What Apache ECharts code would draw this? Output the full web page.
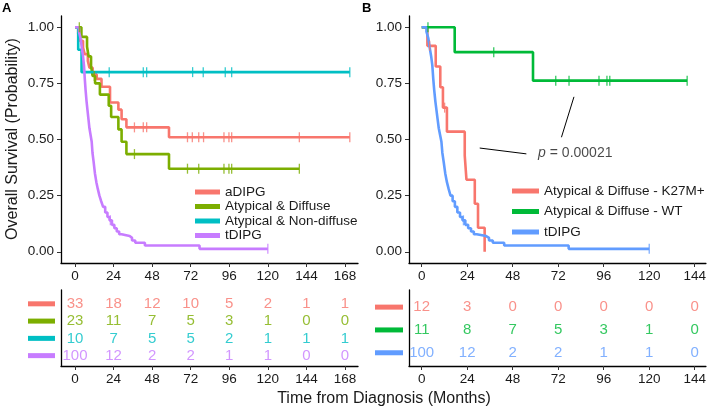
<!DOCTYPE html>
<html><head><meta charset="utf-8">
<script src="https://cdn.jsdelivr.net/npm/echarts@6/dist/echarts.min.js"></script>
<style>html,body{margin:0;padding:0;background:#fff}#c{width:709px;height:410px}</style>
</head><body><div id="c"></div>
<script>
// ---------- data ----------
const xTicksA = [0, 24, 48, 72, 96, 120, 144, 168];
const xTicksB = [0, 24, 48, 72, 96, 120, 144];
const yTicks = [0, 0.25, 0.5, 0.75, 1];

const groupsA = ['aDIPG', 'Atypical & Diffuse', 'Atypical & Non-diffuse', 'tDIPG'];
const groupsB = ['Atypical & Diffuse - K27M+', 'Atypical & Diffuse - WT', 'tDIPG'];

// Kaplan-Meier step points [month, survival]
const aDIPG = [[0,1],[2,0.97],[3,0.94],[5,0.91],[6,0.88],[8,0.85],[9,0.82],[11,0.79],[13.5,0.77],[16.5,0.735],[21.8,0.665],[27,0.633],[29,0.59],[32,0.554],[58.5,0.51],[171,0.51]];
const aDIPGCens = [[37,0.554],[42.5,0.554],[44.6,0.554],[70,0.51],[73,0.51],[77,0.51],[80,0.51],[92.7,0.51],[95.8,0.51],[97.5,0.51],[139.6,0.51],[171,0.51]];

const atypDiffuse = [[0,1],[4,0.957],[7.5,0.913],[8.5,0.87],[10,0.826],[11,0.783],[12.5,0.75],[15.5,0.70],[21,0.65],[22.5,0.60],[27,0.545],[29,0.49],[32,0.435],[58.5,0.37],[139.6,0.37]];
const atypDiffuseCens = [[2.7,1],[12,0.783],[37,0.435],[70,0.37],[77,0.37],[92.7,0.37],[95.8,0.37],[97.5,0.37],[139.6,0.37]];

const atypNonDiffuse = [[0,1],[2,0.9],[4.1,0.8],[171,0.8]];
const atypNonDiffuseCens = [[21.3,0.8],[42.5,0.8],[44.6,0.8],[73.2,0.8],[79.8,0.8],[93.5,0.8],[97.5,0.8],[171,0.8]];

const tDIPG = [[0,1],[2.5,0.98],[3.5,0.95],[4.2,0.91],[5,0.87],[5.6,0.83],[6.1,0.77],[6.6,0.72],[7.2,0.67],[7.8,0.63],[8.4,0.59],[9,0.55],[9.7,0.52],[10.4,0.49],[10.9,0.44],[11.6,0.40],[12.4,0.35],[13.3,0.31],[14.2,0.28],[15.2,0.25],[16.3,0.225],[17.5,0.20],[18.8,0.175],[20.2,0.155],[21.5,0.14],[23,0.12],[24.5,0.105],[26,0.09],[27.5,0.078],[29,0.07],[34,0.062],[35.5,0.05],[37.5,0.04],[43.5,0.028],[77.5,0.013],[120,0.013]];
const tDIPGCens = [[22,0.14],[120,0.013]];

const k27m = [[0,1],[3,0.917],[7.4,0.825],[9.8,0.733],[11.2,0.642],[13.3,0.535],[22.7,0.428],[23.6,0.321],[28,0.214],[29.7,0.107],[33.2,0]];
const k27mCens = [[4.2,0.917],[12.1,0.642]];

const wt = [[0,1],[17.4,0.889],[58.7,0.762],[140,0.762]];
const wtCens = [[3.3,1],[38,0.889],[70.7,0.762],[77.7,0.762],[93.5,0.762],[97.7,0.762],[99.2,0.762],[140,0.762]];

// numbers at risk
const riskA = [
  [33, 18, 12, 10, 5, 2, 1, 1],
  [23, 11, 7, 5, 3, 1, 0, 0],
  [10, 7, 5, 5, 2, 1, 1, 1],
  [100, 12, 2, 2, 1, 1, 0, 0]
];
const riskB = [
  [12, 3, 0, 0, 0, 0, 0],
  [11, 8, 7, 5, 3, 1, 0],
  [100, 12, 2, 2, 1, 1, 0]
];

const pText = 'p = 0.00021';
const pAnchor = [[81, 0.44]];
const pLine1 = [[30.6, 0.462], [55.2, 0.436]];
const pLine2 = [[73.7, 0.51], [80.3, 0.69]];

// ---------- styles ----------
const colA = ['#F8766D', '#7CAE00', '#00BFC4', '#C77CFF'];
const colB = ['#F8766D', '#00BA38', '#619CFF'];
const FONT = 'Liberation Sans';
const TXT = '#1a1a1a';

function xAx(gi, min, max, ticks) {
  return {
    type: 'value', gridIndex: gi, min: min, max: max,
    splitLine: { show: false },
    axisLine: { onZero: false, lineStyle: { color: '#000', width: 1.3 } },
    axisTick: { customValues: ticks, length: 4, lineStyle: { color: '#333', width: 1 } },
    axisLabel: { customValues: ticks, fontSize: 13.5, color: TXT, margin: 6, fontFamily: FONT }
  };
}
function yMain(gi) {
  return {
    type: 'value', gridIndex: gi, min: -0.05, max: 1.05,
    splitLine: { show: false },
    axisLine: { onZero: false, lineStyle: { color: '#000', width: 1.3 } },
    axisTick: { customValues: yTicks, length: 4, lineStyle: { color: '#333', width: 1 } },
    axisLabel: { customValues: yTicks, fontSize: 13.5, color: TXT, margin: 7, fontFamily: FONT,
      formatter: v => v.toFixed(2) }
  };
}
function yTable(gi, n, min, max, cols, w) {
  const rich = {};
  const vals = [];
  for (let i = 0; i < n; i++) {
    rich['c' + i] = { backgroundColor: cols[i], width: w, height: 5, fontSize: 1, lineHeight: 5 };
    vals.push(i);
  }
  return {
    type: 'value', gridIndex: gi, min: min, max: max, inverse: true,
    splitLine: { show: false },
    axisLine: { onZero: false, lineStyle: { color: '#000', width: 1.3 } },
    axisTick: { show: false },
    axisLabel: { customValues: vals, margin: 6, formatter: v => '{c' + Math.round(v) + '| }', rich: rich }
  };
}

const series = [];
function km(name, data, cens, color, xi, yi) {
  series.push({
    name: name, type: 'line', step: 'end', data: data, xAxisIndex: xi, yAxisIndex: yi,
    showSymbol: false, symbol: 'none', color: color,
    lineStyle: { color: color, width: 2.6 }, emphasis: { disabled: true }, animation: false
  });
  series.push({
    name: name + ' censor', type: 'scatter', data: cens, xAxisIndex: xi, yAxisIndex: yi,
    symbol: 'rect', symbolSize: [1.3, 10], itemStyle: { color: color }, z: 3, animation: false
  });
}
km(groupsA[0], aDIPG, aDIPGCens, colA[0], 0, 0);
km(groupsA[1], atypDiffuse, atypDiffuseCens, colA[1], 0, 0);
km(groupsA[2], atypNonDiffuse, atypNonDiffuseCens, colA[2], 0, 0);
km(groupsA[3], tDIPG, tDIPGCens, colA[3], 0, 0);
km(groupsB[0], k27m, k27mCens, colB[0], 2, 2);
km(groupsB[1], wt, wtCens, colB[1], 2, 2);
km(groupsB[2] + ' ', tDIPG, tDIPGCens, colB[2], 2, 2);

function riskSeries(risk, ticks, cols, xi, yi) {
  risk.forEach((row, g) => {
    series.push({
      type: 'scatter', xAxisIndex: xi, yAxisIndex: yi, symbolSize: 0, silent: true, animation: false,
      data: row.map((v, i) => [ticks[i], g, v]),
      label: { show: true, position: 'inside', formatter: p => String(p.value[2]),
        color: cols[g], fontSize: 15, fontFamily: FONT }
    });
  });
}
riskSeries(riskA, xTicksA, colA, 1, 1);
riskSeries(riskB, xTicksB, colB, 3, 3);

[pLine1, pLine2].forEach(seg => series.push({
  type: 'line', data: seg, xAxisIndex: 2, yAxisIndex: 2, symbol: 'none', silent: true, animation: false,
  lineStyle: { color: '#000', width: 1 }
}));
series.push({
  type: 'scatter', data: pAnchor, xAxisIndex: 2, yAxisIndex: 2, symbolSize: 0, silent: true, animation: false,
  label: { show: true, position: 'inside', formatter: '{i|p}' + pText.slice(1), color: TXT, fontSize: 14,
    fontFamily: FONT, rich: { i: { fontStyle: 'italic', fontSize: 14, fontFamily: FONT, color: TXT } } }
});

const option = {
  animation: false,
  textStyle: { fontFamily: FONT },
  grid: [
    { left: 61, top: 16, width: 297, height: 247 },
    { left: 61, top: 290, width: 297, height: 76 },
    { left: 409, top: 16, width: 297, height: 247 },
    { left: 409, top: 290, width: 297, height: 76 }
  ],
  xAxis: [
    xAx(0, -8.7, 176.1, xTicksA),
    xAx(1, -8.7, 176.1, xTicksA),
    xAx(2, -6.7, 149.9, xTicksB),
    xAx(3, -6.7, 149.9, xTicksB)
  ],
  yAxis: [
    yMain(0),
    yTable(1, 4, -0.8, 3.6, colA, 27),
    yMain(2),
    yTable(3, 3, -0.75, 2.58, colB, 28)
  ],
  legend: [
    { data: groupsA, left: 190, top: 180, orient: 'vertical', icon: 'rect', itemWidth: 25, itemHeight: 5,
      itemGap: 0.5, selectedMode: false, textStyle: { fontSize: 13.5, color: TXT, fontFamily: FONT } },
    { data: groupsB.map((n, i) => i === 2 ? n + ' ' : n), left: 507, top: 179, orient: 'vertical', icon: 'rect',
      itemWidth: 27, itemHeight: 5, itemGap: 6.5, selectedMode: false,
      textStyle: { fontSize: 13.5, color: TXT, fontFamily: FONT } }
  ],
  graphic: [
    { type: 'text', left: 2, top: 2, style: { text: 'A', fontSize: 13, fontWeight: 'bold', fontFamily: FONT, fill: '#000' } },
    { type: 'text', left: 362, top: 2, style: { text: 'B', fontSize: 13, fontWeight: 'bold', fontFamily: FONT, fill: '#000' } },
    { type: 'text', x: 13, y: 139, rotation: Math.PI / 2,
      style: { text: 'Overall Survival (Probability)', fontSize: 16, fontFamily: FONT, fill: TXT, align: 'center', verticalAlign: 'middle' } },
    { type: 'text', x: 384, y: 399,
      style: { text: 'Time from Diagnosis (Months)', fontSize: 16, fontFamily: FONT, fill: TXT, align: 'center', verticalAlign: 'middle' } }
  ],
  series: series
};
const chart = echarts.init(document.getElementById('c'), null, { renderer: 'canvas' });
chart.setOption(option);
</script></body></html>
